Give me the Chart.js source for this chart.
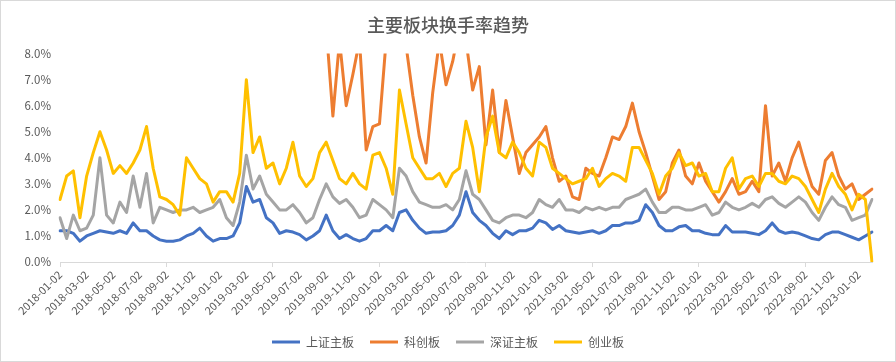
<!DOCTYPE html>
<html>
<head>
<meta charset="utf-8">
<script src="https://cdn.jsdelivr.net/npm/chart.js@4/dist/chart.umd.min.js"></script>
<style>
  body { margin: 0; background: #fff; }
  #wrap { width: 896px; height: 362px; }
</style>
</head>
<body>
<div id="wrap"><canvas id="turnoverChart" width="896" height="362"></canvas></div>
<script>
// Half-month sample dates (categories)
const dates = [
  '2018-01-02','2018-01-16','2018-02-02','2018-02-16','2018-03-02','2018-03-16','2018-04-02','2018-04-16','2018-05-02','2018-05-16','2018-06-02','2018-06-16','2018-07-02','2018-07-16','2018-08-02','2018-08-16','2018-09-02','2018-09-16','2018-10-02','2018-10-16','2018-11-02','2018-11-16','2018-12-02','2018-12-16',
  '2019-01-02','2019-01-16','2019-02-02','2019-02-16','2019-03-02','2019-03-16','2019-04-02','2019-04-16','2019-05-02','2019-05-16','2019-06-02','2019-06-16','2019-07-02','2019-07-16','2019-08-02','2019-08-16','2019-09-02','2019-09-16','2019-10-02','2019-10-16','2019-11-02','2019-11-16','2019-12-02','2019-12-16',
  '2020-01-02','2020-01-16','2020-02-02','2020-02-16','2020-03-02','2020-03-16','2020-04-02','2020-04-16','2020-05-02','2020-05-16','2020-06-02','2020-06-16','2020-07-02','2020-07-16','2020-08-02','2020-08-16','2020-09-02','2020-09-16','2020-10-02','2020-10-16','2020-11-02','2020-11-16','2020-12-02','2020-12-16',
  '2021-01-02','2021-01-16','2021-02-02','2021-02-16','2021-03-02','2021-03-16','2021-04-02','2021-04-16','2021-05-02','2021-05-16','2021-06-02','2021-06-16','2021-07-02','2021-07-16','2021-08-02','2021-08-16','2021-09-02','2021-09-16','2021-10-02','2021-10-16','2021-11-02','2021-11-16','2021-12-02','2021-12-16',
  '2022-01-02','2022-01-16','2022-02-02','2022-02-16','2022-03-02','2022-03-16','2022-04-02','2022-04-16','2022-05-02','2022-05-16','2022-06-02','2022-06-16','2022-07-02','2022-07-16','2022-08-02','2022-08-16','2022-09-02','2022-09-16','2022-10-02','2022-10-16','2022-11-02','2022-11-16','2022-12-02','2022-12-16',
  '2023-01-02','2023-01-16','2023-02-02'
];

// Dates shown on the x axis
const tickDates = [
  '2018-01-02','2018-03-02','2018-05-02','2018-07-02','2018-09-02','2018-11-02',
  '2019-01-02','2019-03-02','2019-05-02','2019-07-02','2019-09-02','2019-11-02',
  '2020-01-02','2020-03-02','2020-05-02','2020-07-02','2020-09-02','2020-11-02',
  '2021-01-02','2021-03-02','2021-05-02','2021-07-02','2021-09-02','2021-11-02',
  '2022-01-02','2022-03-02','2022-05-02','2022-07-02','2022-09-02','2022-11-02',
  '2023-01-02'
];

// Turnover rate (%) per board
const shMain = [
  1.2,1.2,1.1,0.8,1.0,1.1,1.2,1.15,1.1,1.2,
  1.1,1.5,1.2,1.2,1.0,0.85,0.8,0.8,0.85,1.0,
  1.1,1.3,1.0,0.8,0.9,0.9,1.0,1.5,2.9,2.3,
  2.4,1.7,1.5,1.1,1.2,1.15,1.05,0.85,1.0,1.2,
  1.8,1.2,0.9,1.05,0.9,0.8,0.9,1.2,1.2,1.4,
  1.2,1.9,2.0,1.6,1.3,1.1,1.15,1.15,1.2,1.4,
  1.8,2.7,1.9,1.6,1.4,1.1,0.9,1.2,1.05,1.2,
  1.2,1.3,1.6,1.5,1.25,1.4,1.2,1.15,1.1,1.15,
  1.2,1.1,1.2,1.4,1.4,1.5,1.5,1.6,2.2,1.9,
  1.4,1.2,1.2,1.35,1.4,1.2,1.2,1.1,1.05,1.05,
  1.4,1.15,1.15,1.15,1.1,1.05,1.2,1.5,1.2,1.1,
  1.15,1.1,1.0,0.9,0.85,1.05,1.15,1.15,1.05,0.95,
  0.85,1.0,1.15
];

// STAR market opened mid-2019; early values run far above the 8% axis top
const star = [
  null,null,null,null,null,null,null,null,null,null,
  null,null,null,null,null,null,null,null,null,null,
  null,null,null,null,null,null,null,null,null,null,
  null,null,null,null,null,null,null,40,20,12,
  9,5.6,8.5,6.0,7.2,8.5,4.3,5.2,5.3,8.5,
  9.0,8.5,8.3,6.4,4.8,3.8,6.5,8.5,6.8,7.7,
  9.0,8.5,6.6,7.5,4.5,6.6,4.2,6.2,4.8,3.4,
  4.2,4.5,4.8,5.2,4.0,3.1,3.3,2.5,2.4,3.6,
  3.4,3.3,4.0,4.8,4.7,5.2,6.1,5.0,4.2,3.3,
  2.4,2.7,3.8,4.3,3.3,3.0,3.8,3.1,2.7,2.3,
  2.7,3.2,2.6,2.7,3.1,2.7,6.0,3.3,3.8,3.1,
  4.0,4.6,3.7,2.9,2.6,3.9,4.2,3.3,2.8,3.0,
  2.4,2.6,2.8
];

const szMain = [
  1.7,0.9,1.8,1.2,1.3,1.8,4.0,1.8,1.5,2.3,
  1.9,3.3,2.1,3.4,1.5,2.1,2.0,1.9,2.0,2.0,
  2.1,1.9,2.0,2.1,2.4,1.7,1.4,2.3,4.1,2.8,
  3.3,2.6,2.3,2.0,2.0,2.2,1.9,1.5,1.7,2.4,
  3.0,2.5,2.25,2.4,2.1,1.7,1.8,2.4,2.2,2.0,
  1.7,3.6,3.3,2.7,2.3,2.2,2.1,2.1,2.2,2.0,
  2.4,3.5,2.6,2.4,2.0,1.6,1.5,1.7,1.8,1.8,
  1.7,1.9,2.4,2.2,2.1,2.4,2.0,2.0,1.9,2.1,
  2.0,2.1,2.0,2.1,2.1,2.4,2.5,2.6,2.8,2.3,
  1.9,1.9,2.1,2.1,2.0,2.0,2.1,2.2,1.8,1.9,
  2.3,2.1,2.0,2.1,2.25,2.1,2.4,2.5,2.25,2.1,
  2.3,2.5,2.3,1.9,1.6,2.1,2.5,2.2,2.1,1.6,
  1.7,1.8,2.4
];

const chinext = [
  2.4,3.3,3.5,1.7,3.3,4.2,5.0,4.3,3.4,3.7,
  3.4,3.8,4.3,5.2,3.6,2.5,2.4,2.2,1.8,4.0,
  3.6,3.2,3.0,2.3,2.7,2.7,2.3,3.4,7.0,4.2,
  4.8,3.6,3.8,3.0,3.6,4.6,3.3,2.9,3.2,4.2,
  4.6,3.9,3.2,3.0,3.4,3.0,2.8,4.1,4.2,3.6,
  2.6,6.6,5.3,4.0,3.6,3.2,3.2,3.4,2.9,3.4,
  3.6,5.4,4.4,2.7,4.8,5.6,4.2,4.0,4.6,4.2,
  3.6,3.3,4.6,4.4,3.6,3.4,3.2,3.0,3.1,3.2,
  3.6,2.9,3.2,3.4,3.3,3.1,4.4,4.4,3.9,3.4,
  2.6,3.3,3.6,4.2,3.7,3.8,3.3,3.4,2.7,2.7,
  3.6,4.0,2.8,3.2,3.3,2.9,3.4,3.4,3.1,3.0,
  3.3,3.2,2.9,2.4,1.9,2.8,3.4,2.9,2.6,2.0,
  2.6,2.4,0
];

const seriesNames = ['上证主板', '科创板', '深证主板', '创业板'];
const seriesColors = ['#4472C4', '#ED7D31', '#A5A5A5', '#FFC000'];
const textColor = '#595959';
const fontFamily = '"Noto Sans CJK SC", "Noto Sans", sans-serif';

// Excel draws later series on top; lower "order" is drawn last in Chart.js
function makeDataset(i, values) {
    return {
        label: seriesNames[i],
        data: values,
        borderColor: seriesColors[i],
        backgroundColor: seriesColors[i],
        borderWidth: 3,
        borderCapStyle: 'round',
        borderJoinStyle: 'round',
        pointRadius: 0,
        tension: 0,
        order: 4 - i
    };
}

// White background + thin outer frame like the Excel chart area
const frame = {
    id: 'frame',
    beforeDraw(chart) {
        const c = chart.ctx;
        c.save();
        c.fillStyle = '#fff';
        c.fillRect(0, 0, chart.width, chart.height);
        c.restore();
    },
    afterDraw(chart) {
        const c = chart.ctx;
        c.save();
        c.strokeStyle = '#d9d9d9';
        c.lineWidth = 1;
        c.strokeRect(0.5, 0.5, chart.width - 1, chart.height - 1);
        c.restore();
    }
};

const ctx = document.getElementById('turnoverChart').getContext('2d');
new Chart(ctx, {
    type: 'line',
    data: {
        labels: dates,
        datasets: [
            makeDataset(0, shMain),
            makeDataset(1, star),
            makeDataset(2, szMain),
            makeDataset(3, chinext)
        ]
    },
    options: {
        responsive: false,
        animation: false,
        devicePixelRatio: 1,
        layout: { padding: { left: 0, right: 0, top: 0, bottom: 4 } },
        plugins: {
            title: {
                display: true,
                text: '主要板块换手率趋势',
                color: textColor,
                font: { family: fontFamily, size: 18, weight: '500' },
                padding: { top: 14, bottom: 18 }
            },
            legend: {
                position: 'bottom',
                labels: {
                    boxWidth: 28,
                    boxHeight: 3,
                    padding: 16,
                    color: textColor,
                    font: { family: fontFamily, size: 12 },
                    generateLabels(chart) {
                        const items = Chart.defaults.plugins.legend.labels.generateLabels(chart);
                        items.forEach(it => { it.lineWidth = 0; });
                        return items.sort((a, b) => a.datasetIndex - b.datasetIndex);
                    }
                }
            },
            tooltip: { enabled: false }
        },
        scales: {
            x: {
                offset: false,
                grid: {
                    drawOnChartArea: false,
                    tickLength: 5,
                    color: c => tickDates.includes(dates[c.index]) ? '#d9d9d9' : 'rgba(0,0,0,0)'
                },
                border: { color: '#d9d9d9' },
                ticks: {
                    autoSkip: false,
                    minRotation: 45,
                    maxRotation: 45,
                    padding: 1,
                    color: textColor,
                    font: { family: fontFamily, size: 11 },
                    callback: function(v, i) {
                        return tickDates.includes(dates[i]) ? dates[i] : null;
                    }
                },
                afterFit(scale) { scale.height = 58; }
            },
            y: {
                min: 0,
                max: 8,
                grid: { display: false },
                border: { display: false },
                ticks: {
                    stepSize: 1,
                    padding: 1,
                    color: textColor,
                    font: { family: fontFamily, size: 11.5 },
                    callback: v => v.toFixed(1) + '%'
                },
                afterFit(scale) { scale.width = 60; }
            },
            // empty right-hand spacer so the plot ends where the reference does
            yRight: {
                position: 'right',
                min: 0,
                max: 8,
                grid: { display: false },
                border: { display: false },
                ticks: { display: false },
                afterFit(scale) { scale.width = 24; }
            }
        }
    },
    plugins: [frame]
});
</script>
</body>
</html>
